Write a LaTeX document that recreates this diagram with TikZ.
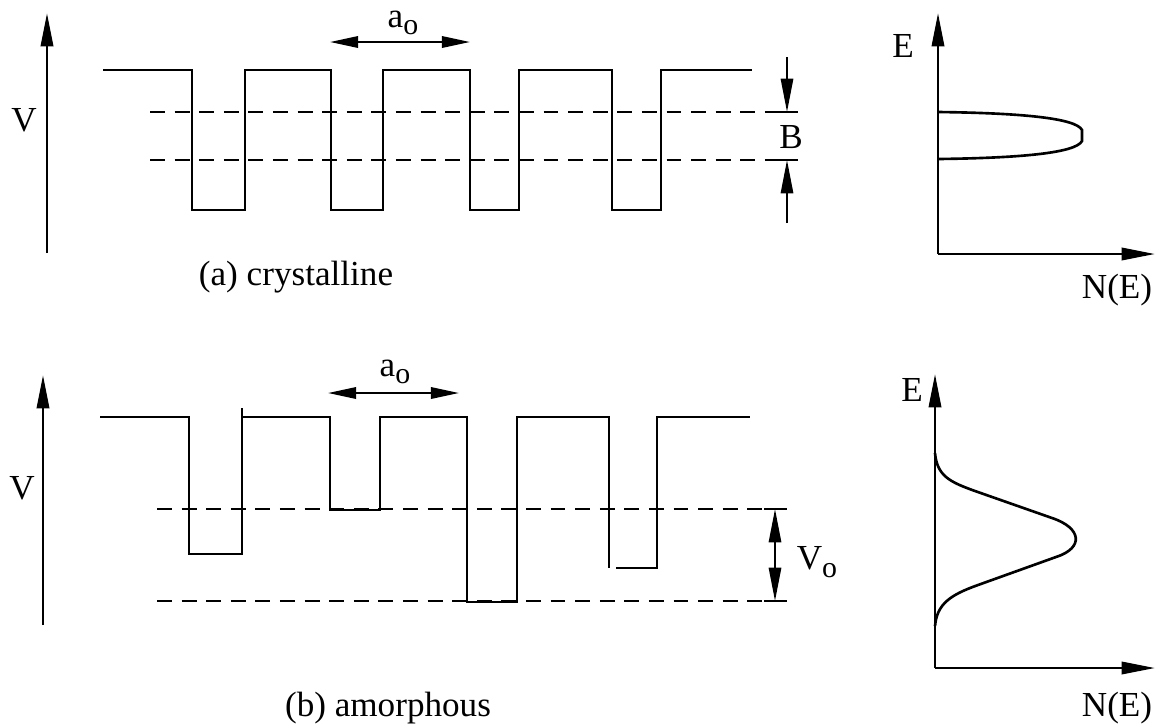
\documentclass[tikz,border=0pt]{standalone}
\usepackage{fontspec}
\setmainfont{Liberation Serif}
\usetikzlibrary{arrows.meta, positioning}

\newcommand{\subo}[1]{#1\raisebox{-0.45ex}{\fontsize{17}{20}\selectfont o}}

\begin{document}
\begin{tikzpicture}[
    x=0.02cm, y=-0.02cm,
    font=\fontsize{20}{24}\selectfont,
    >={Triangle[length=19pt,width=7pt]},
    axis/.style={->, line width=1.5pt},
    wave/.style={line width=1.5pt, line join=miter},
    level/.style={line width=1.2pt, dash pattern=on 8.5pt off 5.5pt},
    dim/.style={{Triangle[length=16pt,width=6.5pt]}-{Triangle[length=16pt,width=6.5pt]}, line width=1.2pt},
    pointer/.style={->, line width=1.2pt},
    tick/.style={line width=1.2pt}
]
\useasboundingbox (0,0) rectangle (1156,725);

% Panel (a): crystalline potential
\coordinate (Va0) at (47,253);
\coordinate (Va1) at (47,13);
\draw[axis] (Va0) -- (Va1);
\node (Va) at (24,120) {V};

\draw[wave] (103,70) -- (192,70) -- (192,210) -- (245,210) -- (245,70)
    -- (331,70) -- (331,210) -- (383,210) -- (383,70)
    -- (470,70) -- (470,210) -- (519,210) -- (519,70)
    -- (612,70) -- (612,210) -- (661,210) -- (661,70) -- (752,70);

\draw[level] (150,112) -- (797,112);
\draw[level] (150,160) -- (797,160);

\coordinate (aoaL) at (330,42);
\coordinate (aoaR) at (470,42);
\draw[dim] (aoaL) -- (aoaR);
\node[inner sep=1pt] (aoa) at (403,23) {\subo{a}};

\coordinate (Btop) at (787,57);
\coordinate (Bhi) at (787,112);
\coordinate (Blo) at (787,160);
\coordinate (Bbot) at (787,223);
\draw[pointer] (Btop) -- (Bhi);
\draw[pointer] (Bbot) -- (Blo);
\draw[tick] ([xshift=-6pt]Bhi) -- ([xshift=6pt]Bhi);
\draw[tick] ([xshift=-6pt]Blo) -- ([xshift=6pt]Blo);
\node (B) at (791,137) {B};

\node (capa) at (296,277) {(a) crystalline};

% Panel (a): density of states
\coordinate (Oa) at (938,254);
\coordinate (Ea) at (938,13);
\coordinate (Na) at (1155,254);
\draw[axis] (Oa) -- (Ea);
\draw[axis] (Oa) -- (Na);
\node (Elbla) at (903,46) {E};
\node (NElbla) at (1117,290) {N(E)};
\draw[wave] (938,112) .. controls (1020,113) and (1076,118) .. (1082,130)
    -- (1082,141) .. controls (1076,153) and (1020,158) .. (938,159);

% Panel (b): amorphous potential
\coordinate (Vb0) at (43,625);
\coordinate (Vb1) at (43,375);
\draw[axis] (Vb0) -- (Vb1);
\node (Vb) at (22,488) {V};

\draw[wave] (100,417) -- (189,417) -- (189,554) -- (242,554) -- (242,408);
\draw[wave] (242,417) -- (330,417) -- (330,510) -- (380,510) -- (380,417)
    -- (467,417) -- (467,602) -- (517,602) -- (517,417)
    -- (609,417) -- (609,568);
\draw[wave] (616,568) -- (657,568) -- (657,417) -- (750,417);

\draw[level] (157,509) -- (795,509);
\draw[level] (157,601) -- (795,601);

\coordinate (aobL) at (328,393);
\coordinate (aobR) at (459,393);
\draw[dim] (aobL) -- (aobR);
\node[inner sep=1pt] (aob) at (395,372) {\subo{a}};

\coordinate (Vohi) at (775,509);
\coordinate (Vomid) at (775,553);
\coordinate (Volo) at (775,601);
\draw[pointer] (Vomid) -- (Vohi);
\draw[pointer] (Vomid) -- (Volo);
\draw[tick] ([xshift=-6pt]Vohi) -- ([xshift=6pt]Vohi);
\draw[tick] ([xshift=-6pt]Volo) -- ([xshift=6pt]Volo);
\node (Vo) at (817,562) {\subo{V}};

\node (capb) at (388,708) {(b) amorphous};

% Panel (b): density of states
\coordinate (Ob) at (935,668);
\coordinate (Eb) at (935,374);
\coordinate (Nb) at (1155,668);
\draw[axis] (Ob) -- (Eb);
\draw[axis] (Ob) -- (Nb);
\node (Elblb) at (912,390) {E};
\node (NElblb) at (1117,708) {N(E)};
\draw[wave] (935,453) .. controls (937,476) and (950,482) .. (975,491)
    -- (1052,518) .. controls (1082,528) and (1084,548) .. (1056,557)
    -- (978,585) .. controls (950,595) and (937,604) .. (935,626);

\end{tikzpicture}
\end{document}
